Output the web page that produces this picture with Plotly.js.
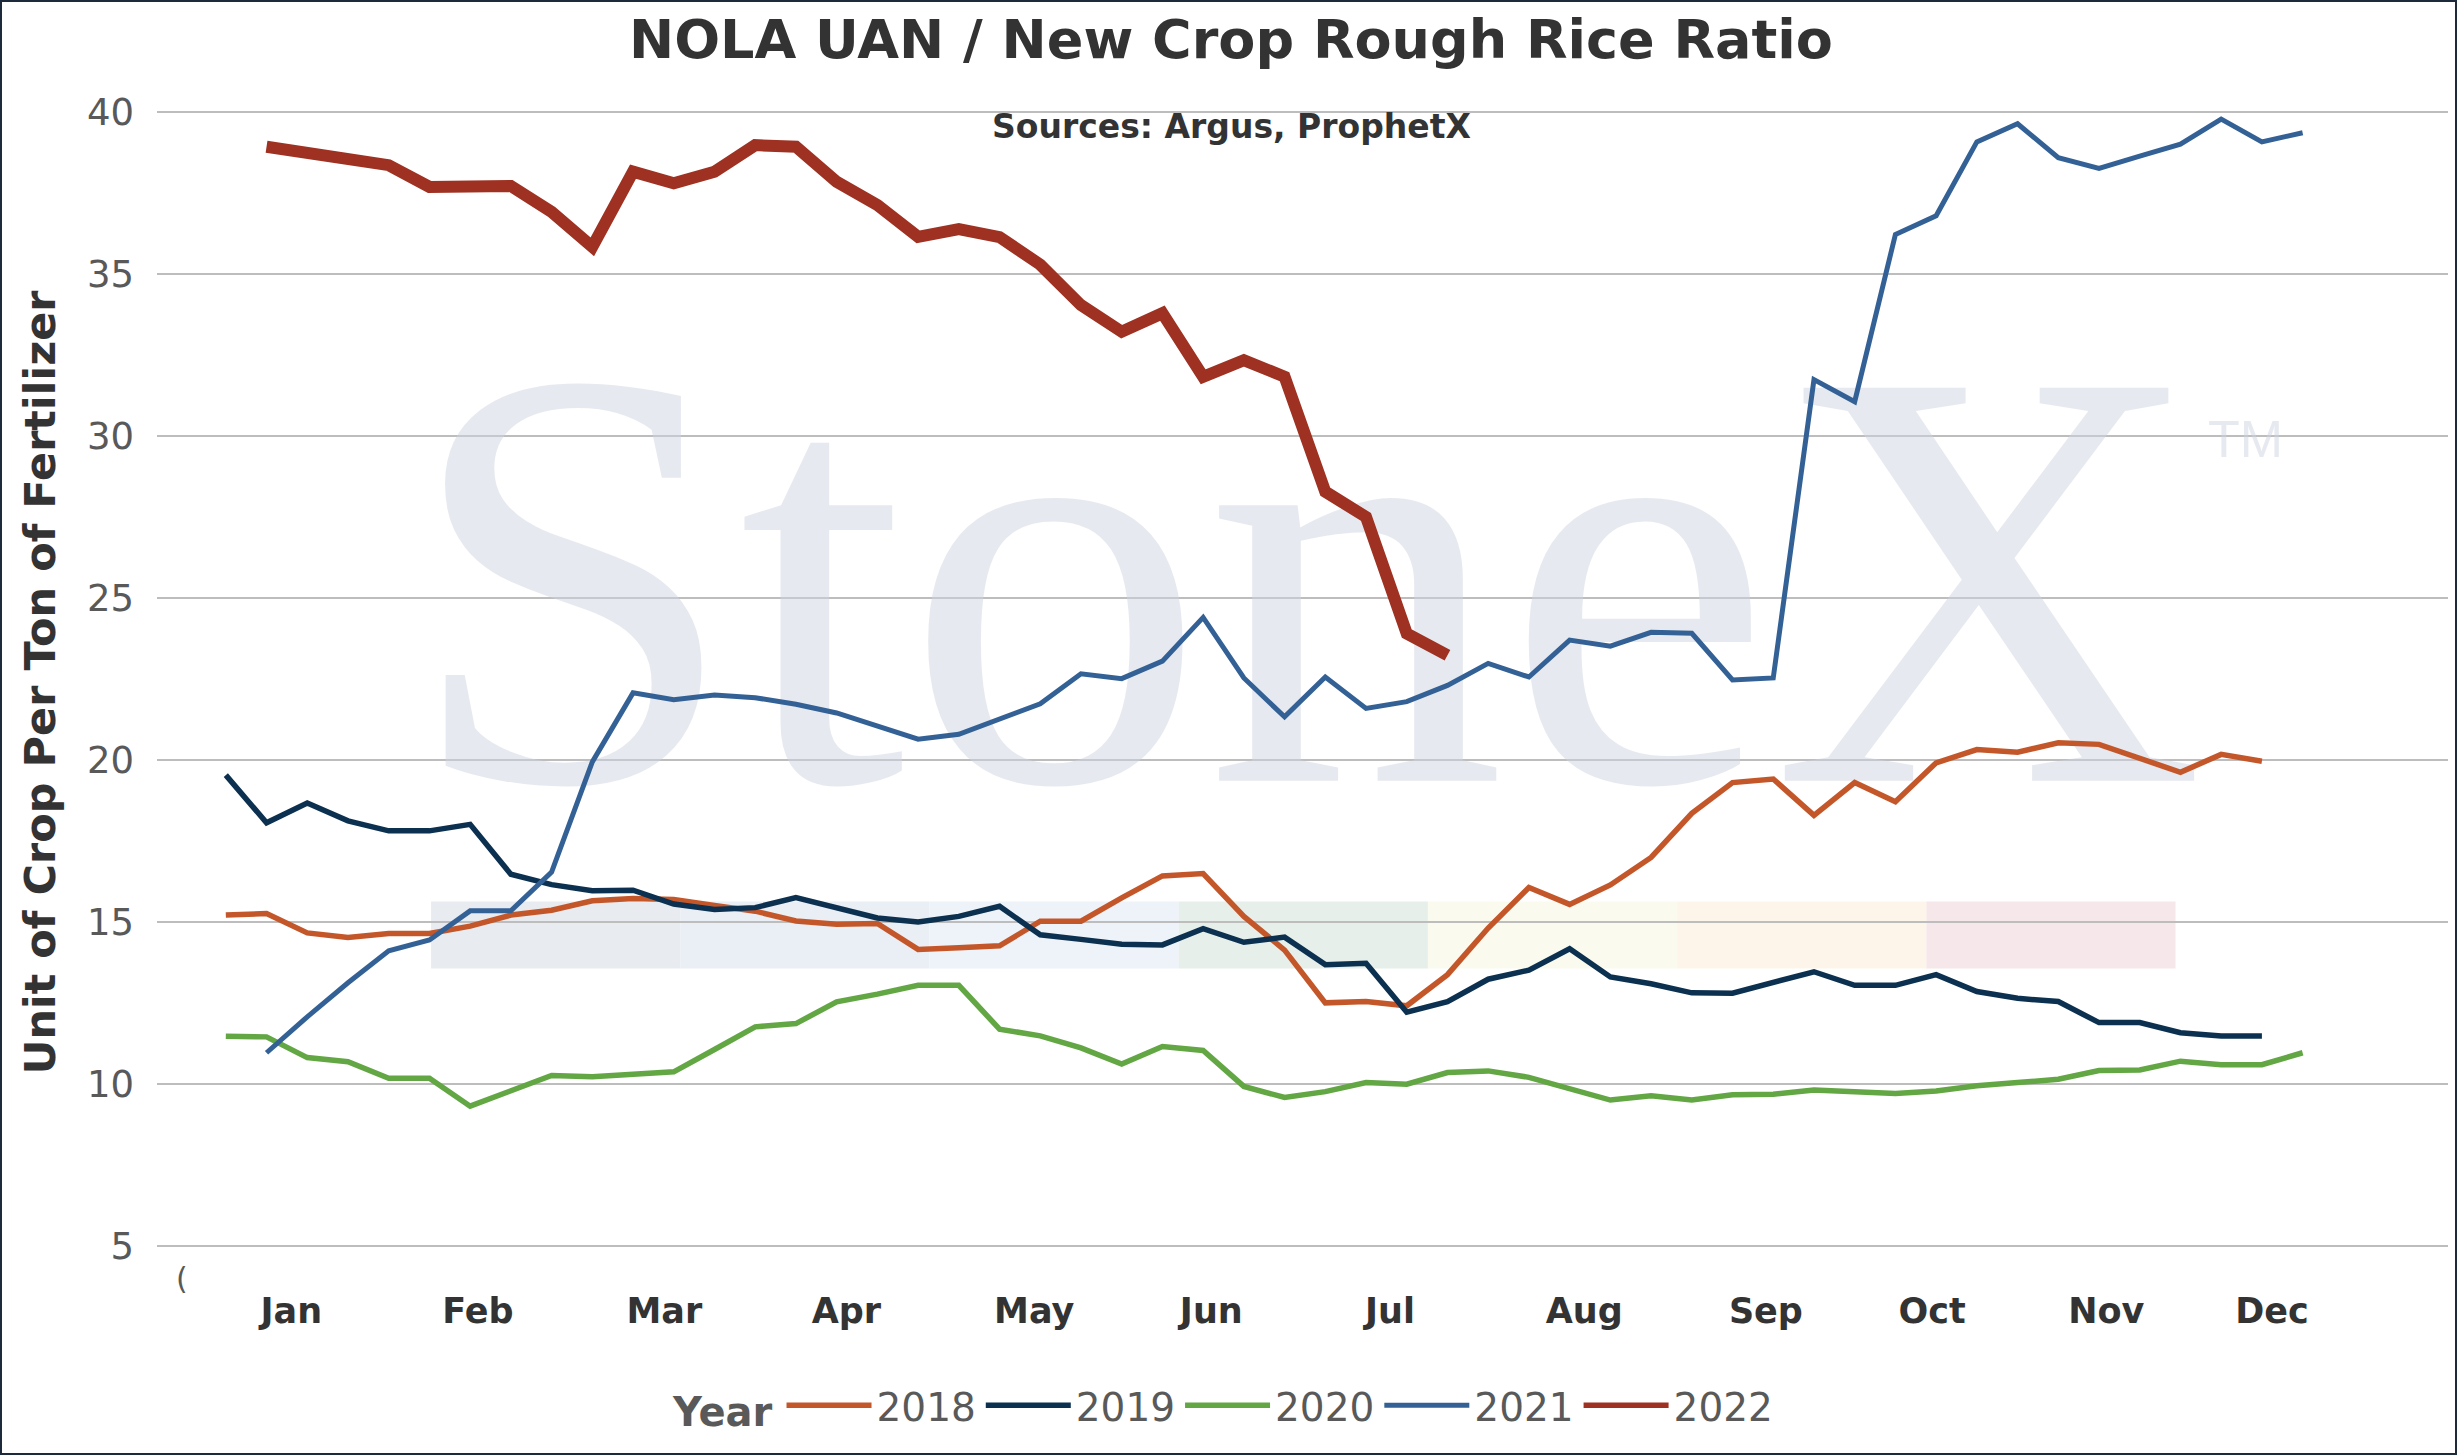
<!DOCTYPE html>
<html>
<head>
<meta charset="utf-8">
<script src="https://cdn.plot.ly/plotly-3.0.1.min.js"></script>
<style>
  html, body { margin: 0; padding: 0; background: #fff; }
  #chart { position: absolute; left: 0; top: 0; width: 2457px; height: 1455px; }
  #frame { position: absolute; left: 0; top: 0; width: 2457px; height: 1455px;
           box-sizing: border-box; border: 2px solid #1c2a3c; pointer-events: none; }
</style>
</head>
<body>
<div id="chart"></div>
<div id="frame"></div>
<script>
// week number of the year (1..52)
var weeks = [];
for (var w = 1; w <= 52; w++) weeks.push(w);

var months = ['Jan', 'Feb', 'Mar', 'Apr', 'May', 'Jun', 'Jul', 'Aug', 'Sep', 'Oct', 'Nov', 'Dec'];
var monthWeeks = [2.61, 7.19, 11.77, 16.24, 20.85, 25.2, 29.59, 34.36, 38.82, 42.9, 47.18, 51.25];

var y2018 = [15.22, 15.27, 14.67, 14.53, 14.65, 14.65, 14.88, 15.22, 15.37, 15.66,
             15.73, 15.70, 15.52, 15.34, 15.04, 14.94, 14.96, 14.16, 14.21, 14.27,
             15.03, 15.03, 15.75, 16.43, 16.50, 15.18, 14.14, 12.51, 12.55, 12.42,
             13.38, 14.82, 16.07, 15.55, 16.15, 17.00, 18.36, 19.31, 19.42, 18.30,
             19.31, 18.72, 19.92, 20.33, 20.25, 20.54, 20.49, 20.04, 19.63, 20.18,
             19.97];

var y2019 = [19.54, 18.07, 18.68, 18.13, 17.82, 17.82, 18.02, 16.48, 16.16, 15.97,
             15.99, 15.56, 15.39, 15.45, 15.76, 15.45, 15.13, 15.01, 15.18, 15.49,
             14.61, 14.47, 14.32, 14.30, 14.80, 14.38, 14.54, 13.69, 13.73, 12.22,
             12.55, 13.24, 13.52, 14.18, 13.31, 13.10, 12.82, 12.81, 13.13, 13.47,
             13.05, 13.05, 13.38, 12.86, 12.65, 12.55, 11.90, 11.90, 11.59, 11.49,
             11.49];

var y2020 = [11.48, 11.46, 10.82, 10.69, 10.18, 10.18, 9.32, 9.79, 10.27, 10.23,
             10.31, 10.38, 11.07, 11.77, 11.87, 12.54, 12.78, 13.05, 13.05, 11.70,
             11.49, 11.12, 10.62, 11.16, 11.04, 9.93, 9.59, 9.77, 10.05, 10.00,
             10.36, 10.41, 10.21, 9.87, 9.51, 9.64, 9.51, 9.67, 9.69, 9.82,
             9.77, 9.71, 9.79, 9.95, 10.05, 10.15, 10.42, 10.44, 10.71, 10.60,
             10.60, 10.97];

var y2021 = [null, 10.97, 12.08, 13.13, 14.12, 14.45, 15.35, 15.35, 16.55, 19.95,
             22.08, 21.87, 22.01, 21.93, 21.73, 21.46, 21.05, 20.65, 20.80, 21.25,
             21.74, 22.67, 22.52, 23.06, 24.41, 22.54, 21.34, 22.57, 21.60, 21.81,
             22.31, 22.99, 22.57, 23.71, 23.52, 23.95, 23.92, 22.48, 22.54, 31.75,
             31.07, 36.23, 36.81, 39.09, 39.65, 38.60, 38.27, 38.65, 39.02, 39.79,
             39.09, 39.37];

var y2022 = [null, 38.94, 38.78, 38.58, 38.37, 37.70, 37.76, 37.73, 36.93, 35.85,
             38.17, 37.81, 38.17, 38.99, 38.94, 37.86, 37.14, 36.16, 36.40, 36.15,
             35.30, 34.05, 33.23, 33.80, 31.84, 32.35, 31.84, 28.29, 27.51, 23.91,
             23.24];

var FONT = 'DejaVu Sans, Verdana, sans-serif';
var colors = { '2018': '#C4572A', '2019': '#0B3050', '2020': '#62A744', '2021': '#336196', '2022': '#9E3121' };

function line(name, y, width, inLegend) {
  return {
    x: weeks.slice(0, y.length),
    y: y,
    name: name,
    legendgroup: name,
    type: 'scatter',
    mode: 'lines',
    connectgaps: false,
    showlegend: inLegend,
    line: { color: colors[name], width: width },
    hoverinfo: 'x+y+name'
  };
}

// faint StoneX watermark behind the lines
var watermark = {
  x: [27.5, 50.6],
  y: [24.0, 29.76],
  mode: 'text',
  text: ['StoneX', 'TM'],
  textposition: 'middle center',
  textfont: {
    family: ['Liberation Serif, serif', 'Liberation Sans, sans-serif'],
    size: [600, 52],
    color: 'rgba(205,212,223,0.5)'
  },
  showlegend: false,
  hoverinfo: 'skip',
  cliponaxis: false
};

// the 2022 line is drawn heavy, but its legend key is a normal weight
var key2022 = {
  x: [null], y: [null], name: '2022', legendgroup: '2022',
  type: 'scatter', mode: 'lines',
  line: { color: colors['2022'], width: 5.5 }, hoverinfo: 'skip'
};

var data = [
  watermark,
  line('2018', y2018, 5.5, true),
  line('2019', y2019, 5.5, true),
  line('2020', y2020, 5.5, true),
  line('2021', y2021, 5, true),
  line('2022', y2022, 12, false),
  key2022
];

// coloured strip of the logo
var bandColors = ['#e8ebf0', '#eaeef5', '#eef3f9', '#e6efe9', '#fafbee', '#fdf5e9', '#f6e8ea'];
var shapes = bandColors.map(function (c, k) {
  return {
    type: 'rect', layer: 'below', xref: 'x', yref: 'y',
    x0: 6.04 + k * 6.12, x1: 6.04 + (k + 1) * 6.12,
    y0: 13.57, y1: 15.64,
    fillcolor: c, line: { width: 0 }
  };
});

var layout = {
  width: 2457,
  height: 1455,
  margin: { l: 157, r: 9, t: 80, b: 170 },
  paper_bgcolor: '#ffffff',
  plot_bgcolor: '#ffffff',
  font: { family: FONT, color: '#333333' },
  title: {
    text: 'NOLA UAN / New Crop Rough Rice Ratio',
    font: { family: FONT, size: 54, weight: 'bold', color: '#333333' },
    x: 0.501, xanchor: 'center',
    y: 0.973, yanchor: 'middle', yref: 'container'
  },
  xaxis: {
    range: [-0.69, 55.57],
    tickmode: 'array',
    tickvals: monthWeeks,
    ticktext: months,
    tickfont: { family: FONT, size: 35, weight: 'bold', color: '#333333' },
    showgrid: false,
    zeroline: false,
    showline: false,
    ticks: '',
    ticklabelstandoff: 2
  },
  yaxis: {
    range: [3.8, 41],
    tickvals: [5, 10, 15, 20, 25, 30, 35, 40],
    tickfont: { family: FONT, size: 37, color: '#595959' },
    showgrid: true,
    gridcolor: '#bdbdbd',
    gridwidth: 2,
    zeroline: false,
    showline: false,
    ticks: '',
    ticklabelstandoff: 22
  },
  shapes: shapes,
  annotations: [
    {
      text: 'Sources: Argus, ProphetX',
      xref: 'paper', yref: 'paper', x: 0.469, y: 0.961,
      xanchor: 'center', yanchor: 'middle', showarrow: false,
      font: { family: FONT, size: 33, weight: 'bold', color: '#333333' }
    },
    {
      text: 'Unit of Crop Per Ton of Fertilizer',
      xref: 'paper', yref: 'paper', x: -0.0515, y: 0.50,
      xanchor: 'center', yanchor: 'middle', textangle: -90, showarrow: false,
      font: { family: FONT, size: 43, weight: 'bold', color: '#333333' }
    },
    {
      text: '(',
      xref: 'paper', yref: 'paper', x: 0.011, y: 0.005,
      xanchor: 'center', yanchor: 'middle', showarrow: false,
      font: { family: FONT, size: 30, color: '#595959' }
    }
  ],
  legend: {
    orientation: 'h',
    x: 0.466, xanchor: 'center',
    y: -0.10, yanchor: 'middle',
    itemwidth: 85,
    title: { text: 'Year', side: 'left', font: { family: FONT, size: 40, weight: 'bold', color: '#595959' } },
    font: { family: FONT, size: 39, color: '#595959' },
    bgcolor: 'rgba(0,0,0,0)'
  },
  showlegend: true
};

var config = { staticPlot: true, responsive: false };

Plotly.newPlot('chart', data, layout, config);
</script>
</body>
</html>
